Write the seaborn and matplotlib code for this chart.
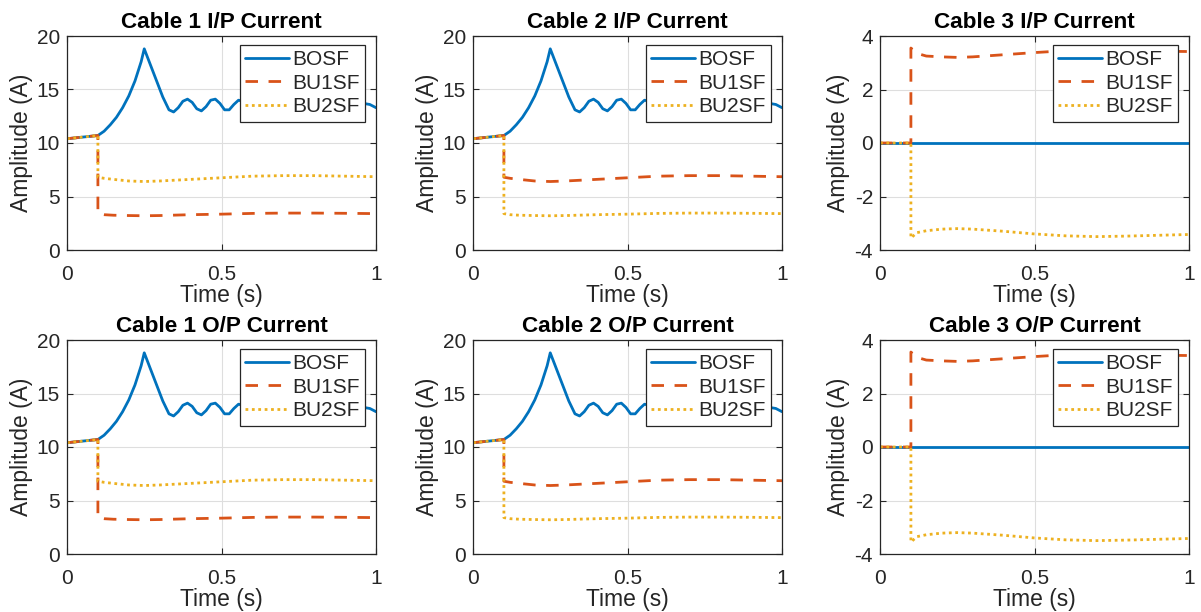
import numpy as np
import pandas as pd
import matplotlib
matplotlib.use("Agg")
import matplotlib.pyplot as plt
import seaborn as sns

# ---------------- data ----------------
titles = ["Cable 1 I/P Current", "Cable 2 I/P Current", "Cable 3 I/P Current",
          "Cable 1 O/P Current", "Cable 2 O/P Current", "Cable 3 O/P Current"]
series_names = ["BOSF", "BU1SF", "BU2SF"]

# healthy-case (BOSF) current for cables 1 and 2
t_bosf = [0.0, 0.1, 0.12, 0.14, 0.16, 0.18, 0.2, 0.22, 0.24, 0.25,
          0.27, 0.29, 0.31, 0.33, 0.345, 0.36, 0.375, 0.39, 0.405, 0.42,
          0.435, 0.45, 0.465, 0.48, 0.495, 0.51, 0.525, 0.54, 0.555, 0.57,
          0.585, 0.6, 0.62, 0.64, 0.66, 0.68, 0.7, 0.72, 0.74, 0.76,
          0.78, 0.8, 0.82, 0.84, 0.86, 0.88, 0.9, 0.92, 0.94, 0.96,
          0.98, 1.0]
bosf_c12 = [10.4, 10.7, 11.1, 11.7, 12.4, 13.3, 14.4, 15.8, 17.6, 18.8,
            17.3, 15.8, 14.3, 13.1, 12.9, 13.3, 13.9, 14.1, 13.8, 13.2,
            13.0, 13.4, 14.0, 14.1, 13.7, 13.1, 13.1, 13.6, 14.0, 13.9,
            13.5, 13.3, 13.6, 13.8, 13.6, 13.4, 13.5, 13.7, 13.6, 13.5,
            13.5, 13.6, 13.6, 13.5, 13.5, 13.6, 13.6, 13.5, 13.6, 13.7,
            13.6, 13.3]

# post-fault (BU1SF / BU2SF) currents
t_step = [0.0, 0.1, 0.1, 0.12, 0.15, 0.2, 0.25, 0.3, 0.4, 0.5,
          0.6, 0.7, 0.8, 0.9, 1.0]
low_c12 = [10.4, 10.7, 3.4, 3.3, 3.25, 3.22, 3.2, 3.22, 3.3, 3.35,
           3.42, 3.45, 3.45, 3.43, 3.4]
high_c12 = [10.4, 10.7, 6.8, 6.7, 6.6, 6.45, 6.4, 6.45, 6.6, 6.75,
            6.9, 6.95, 6.95, 6.9, 6.85]
pos_c3 = [0.0, 0.0, 3.55, 3.35, 3.25, 3.22, 3.2, 3.22, 3.3, 3.38,
          3.45, 3.45, 3.45, 3.43, 3.42]
neg_c3 = [0.0, 0.0, -3.55, -3.35, -3.28, -3.22, -3.2, -3.22, -3.3, -3.4,
          -3.47, -3.5, -3.48, -3.45, -3.42]
t_zero = [0.0, 1.0]
bosf_c3 = [0.0, 0.0]

yticks_c12 = [0, 5, 10, 15, 20]
yticks_c3 = [-4, -2, 0, 2, 4]
xticks = [0, 0.5, 1]
xticklabels = ["0", "0.5", "1"]

# per-panel series: (t, y) for BOSF, BU1SF, BU2SF
panel_data = {
    0: [(t_bosf, bosf_c12), (t_step, low_c12), (t_step, high_c12)],
    1: [(t_bosf, bosf_c12), (t_step, high_c12), (t_step, low_c12)],
    2: [(t_zero, bosf_c3), (t_step, pos_c3), (t_step, neg_c3)],
}

# ---------------- style ----------------
sns.set_theme(style="white")
plt.rcParams["font.family"] = ["Liberation Sans", "DejaVu Sans"]
plt.rcParams["axes.unicode_minus"] = False

colors = ["#0072BD", "#D95319", "#EDB120"]
styles = ["-", (0, (4.5, 3.8)), (0, (1.0, 1.3))]
ink = "#262626"

fig = plt.figure(figsize=(12.01, 6.12), dpi=100)
W, H = 1201, 612
col_left = [67, 473, 880]
ax_w = 309
row_top = [36, 340]
ax_h = 214

for r in range(2):
    for c in range(3):
        ax = fig.add_axes([col_left[c] / W, (H - row_top[r] - ax_h) / H,
                           ax_w / W, ax_h / H])
        for k, (tt, yy) in enumerate(panel_data[c]):
            sns.lineplot(x=tt, y=yy, ax=ax, color=colors[k], linestyle=styles[k],
                         linewidth=2.0, label=series_names[k],
                         estimator=None, sort=False)
        ax.set_xlim(0, 1)
        if c < 2:
            ax.set_ylim(0, 20)
            ax.set_yticks(yticks_c12)
        else:
            ax.set_ylim(-4, 4)
            ax.set_yticks(yticks_c3)
        ax.set_xticks(xticks)
        ax.set_xticklabels(xticklabels)
        ax.grid(True, color="#dedede", linewidth=0.8)
        ax.set_axisbelow(True)
        for sp in ax.spines.values():
            sp.set_visible(True)
            sp.set_color(ink)
            sp.set_linewidth(0.9)
        ax.tick_params(direction="in", length=4, width=0.8, colors=ink,
                       labelsize=15, top=True, right=True,
                       bottom=True, left=True)
        ax.tick_params(axis="x", pad=11)
        ax.tick_params(axis="y", pad=5)
        ax.set_title(titles[r * 3 + c], fontsize=16.2, fontweight="bold",
                     color="black", pad=6)
        ax.set_xlabel("Time (s)", fontsize=16.5, color=ink, labelpad=0)
        ax.set_ylabel("Amplitude (A)", fontsize=16.5, color=ink, labelpad=3)
        leg = ax.legend(loc="upper right", bbox_to_anchor=(0.964, 0.958),
                        borderaxespad=0, fontsize=15, frameon=True,
                        fancybox=False, handlelength=2.1, handletextpad=0.15,
                        labelspacing=0.22, borderpad=0.25)
        leg.get_frame().set_edgecolor(ink)
        leg.get_frame().set_linewidth(0.9)
        leg.get_frame().set_alpha(1)

fig.savefig("out.png", dpi=100, facecolor="white")
